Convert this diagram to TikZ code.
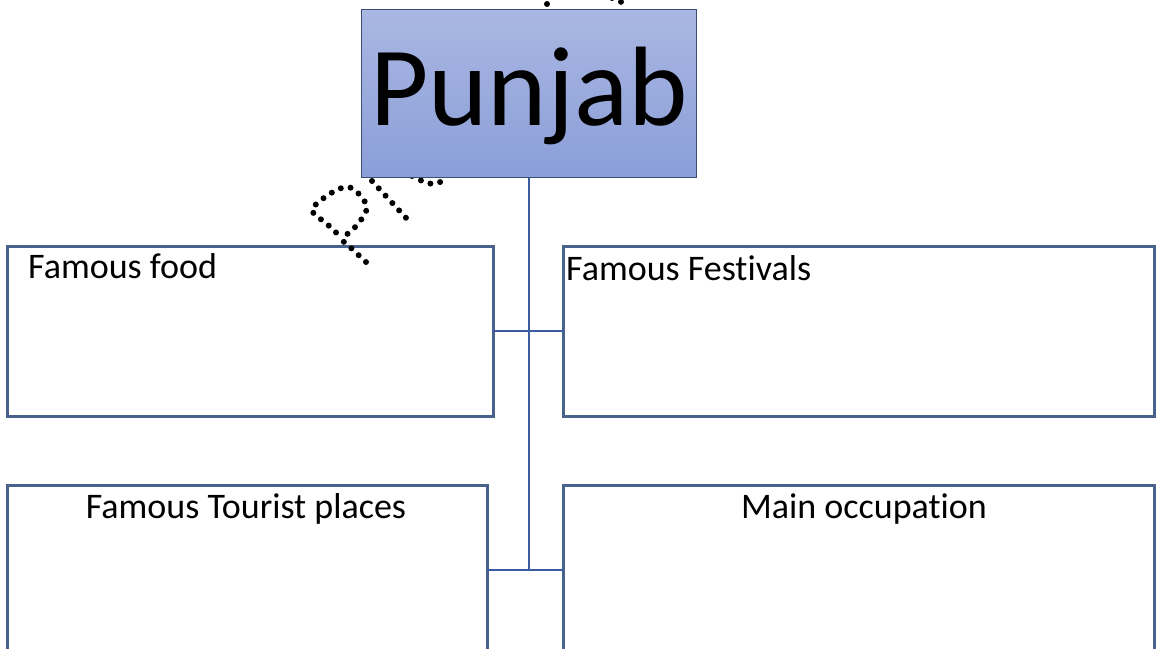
\documentclass[tikz,border=0pt]{standalone}
\usepackage{fontspec}
\setmainfont[Ligatures={NoCommon}]{Carlito}
\definecolor{topblue}{RGB}{170,183,226}
\definecolor{botblue}{RGB}{138,158,216}
\definecolor{boxedge}{RGB}{72,98,140}
\definecolor{connblue}{RGB}{59,92,160}
\tikzset{
  x=1pt,y=-1pt,
  wbox/.style={draw=boxedge,line width=3pt,fill=white,inner sep=0pt},
  conn/.style={draw=connblue,line width=2.8pt},
  wmark/.style={draw=black,line width=6pt,line cap=round,dash pattern=on 0pt off 10pt},
  lbl/.style={font=\fontsize{36}{40}\selectfont,inner sep=0pt}
}
\begin{document}
\begin{tikzpicture}
\useasboundingbox (0,0) rectangle (1156,648);
% boxes
\path[wbox] (7,246) rectangle (493,416) node[pos=0,anchor=north west] (food) {};
\path[wbox] (563,246) rectangle (1154,416) node[pos=0,anchor=north west] (fest) {};
\path[wbox] (7,485) rectangle (487,660) node[pos=0] (tour) {};
\path[wbox] (563,485) rectangle (1154,660) node[pos=0] (occ) {};
% watermark dotted strokes
\draw[wmark] plot[smooth] coordinates {(366,262) (350,247) (343,239) (358,224) (367,207) (356,191) (345,187) (328,195) (312,210) (327,224) (343,239)};
\draw[wmark] (372,181) -- (408,220);
\draw[wmark] plot[smooth] coordinates {(412,176) (427,183) (438,183) (448,177)};
\draw[wmark] (547,4) -- (548,6);
\draw[wmark] plot[smooth] coordinates {(612,-2) (620,2) (630,-1)};
\node[draw=boxedge!80!black,line width=1pt,top color=topblue,bottom color=botblue,minimum width=335pt,minimum height=168pt,anchor=north west,inner sep=0pt] (punjab) at (361,9) {};
\node[font=\fontsize{113}{120}\selectfont,inner sep=0pt,anchor=base] (ptext) at (529,125) {Punjab};
% connectors
\coordinate (junA) at (punjab.south |- 0,331);
\coordinate (junB) at (punjab.south |- 0,570);
\draw[conn] (punjab.south) -- (junB);
\draw[conn] (493,331) coordinate (fa) -- (junA) -- (563,331) coordinate (fb);
\draw[conn] (487,570) coordinate (ta) -- (junB) -- (563,570) coordinate (tb);
% labels
\node[lbl,anchor=base west] (foodt) at (28,278) {Famous food};
\node[lbl,anchor=base west] (festt) at (566,280) {Famous Festivals};
\node[lbl,anchor=base] (tourt) at (246,518) {Famous Tourist places};
\node[lbl,anchor=base] (occt) at (864,518) {Main occupation};
\end{tikzpicture}
\end{document}
